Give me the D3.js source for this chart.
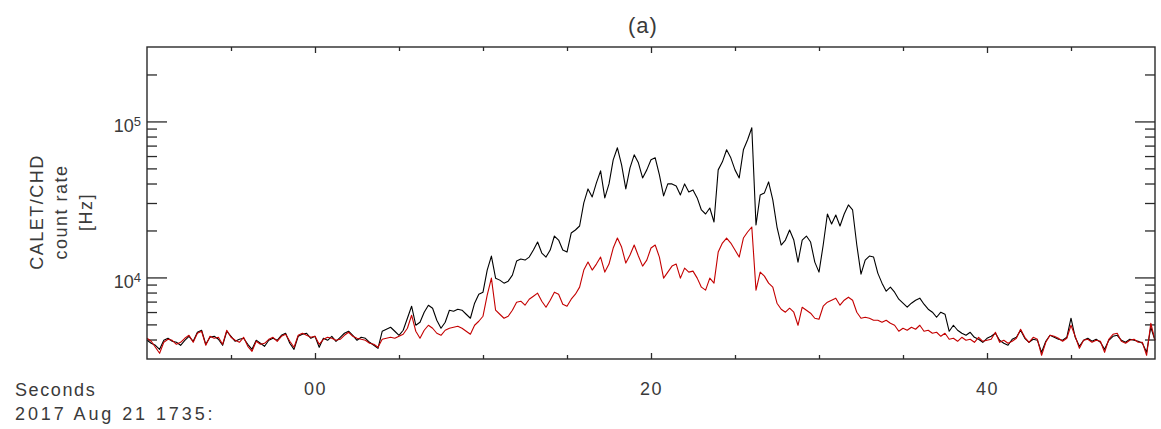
<!DOCTYPE html>
<html>
<head>
<meta charset="utf-8">
<script src="https://cdn.jsdelivr.net/npm/d3@7"></script>
<style>
  body { margin: 0; background: #fff; }
  svg text { font-family: "Liberation Sans", Arial, sans-serif; fill: #3a3a3a; }
</style>
</head>
<body>
<svg id="chart" width="1161" height="429"></svg>
<script>
// CALET/CHD count rate around 2017 Aug 21 17:35 (seconds from 17:35:00)
const timeStart = -10;
const timeStep = 0.25;

// upper curve (black), Hz
const blackRate = [
  3954,3782,3672,3461,3954,4073,3896,3838,3672,3954,
  4195,3896,4451,4585,3727,4134,4195,4013,3672,4518,
  4195,3896,4013,4073,3727,3461,3954,3782,3618,3954,
  4073,3954,4258,4386,3782,3461,4195,4321,4386,4073,
  4195,3565,4073,3954,4195,3896,4134,4386,4518,4258,
  3954,4134,4073,3838,3672,3512,4518,4653,4793,4518,
  4258,4585,5475,6539,4937,5160,5984,6637,6349,5316,
  4722,5160,6163,6073,6255,6163,5808,5475,6836,7811,
  8045,11140,13707,9897,9610,9192,9468,10347,12728,13110,
  12918,13504,14979,16860,14328,13504,14979,18426,17368,14979,
  14543,19260,20137,21364,30020,36930,32810,40370,48200,32326,
  39774,56740,67760,52680,36930,50400,61090,54270,43460,48920,
  56740,58440,45430,33300,39774,39774,38612,33800,39774,35330,
  36392,32326,27066,25512,27876,22666,48920,55080,65790,58440,
  48920,43460,65790,76270,91080,21680,33800,34810,40966,31388,
  21050,16130,17368,20137,17368,12540,17368,18426,16860,12540,
  10817,16130,25512,22003,25140,21364,25512,29150,27066,16130,
  10500,12918,13707,13504,10657,9192,8165,8664,8045,7253,
  6836,6443,6836,7146,7362,6736,6255,5984,5557,5984,
  5808,4518,4937,4585,4386,4258,4451,4134,4013,3838,
  4073,4195,4386,3954,3782,3672,4013,4134,4585,4073,
  3838,4013,3954,3311,3896,4258,4134,4013,3954,4134,
  5475,4134,3618,3954,4073,3896,4013,3838,3461,3954,
  4195,4258,3954,3838,4013,3954,3896,3782,3311,4793,3954
];

// lower curve (red), Hz
const redRate = [
  4073,3896,3565,3263,3838,4013,3954,3727,3838,4073,
  4258,3838,4386,4518,3672,4195,4073,4134,3727,4585,
  4134,3954,3838,4134,3618,3360,3896,3727,3782,4013,
  4134,3896,4195,4321,3896,3565,4258,4386,4258,4134,
  4195,3727,4013,4134,4073,3954,4013,4258,4451,4195,
  4073,4013,3954,3782,3727,3565,4013,4073,4134,4073,
  4195,4321,4722,5724,4518,4073,4585,4937,4722,4386,
  4258,4585,4722,4793,4864,4722,4518,4321,4937,5238,
  5640,7696,9897,6163,5808,5475,5640,6163,6938,7041,
  6637,7253,7582,7927,7041,6443,7146,8045,7811,6736,
  6539,7253,7811,8664,11140,12540,11140,12176,13504,10817,
  12176,15430,17887,15660,12357,13910,16130,13707,11820,12918,
  15430,16130,13504,9897,10817,11820,12176,9897,11476,10817,
  10977,9897,8664,8287,9897,9192,14543,16610,17887,16610,
  14979,13504,17887,19548,21050,8287,10817,10195,9192,8664,
  6836,6255,5984,6349,5984,4937,6443,6163,5896,5475,
  5395,6539,6938,7146,7362,6637,7146,7471,7146,5984,
  5475,5557,5475,5316,5316,5160,5316,5085,4937,4518,
  4722,4585,4793,4653,4937,4518,4585,4386,4451,4195,
  4386,4013,4073,3896,4134,3954,4013,3838,4134,3896,
  3954,4013,4451,3838,3954,3782,3896,4073,4653,4134,
  3838,4134,4013,3168,3838,4258,4195,4073,3896,4073,
  4937,4195,3512,3954,4013,3838,3954,3896,3311,4013,
  4321,4386,3896,3782,3954,4013,3838,3838,3168,5085,3954
];

const majorSeconds = [0, 20, 40];
const majorLabels = ["00", "20", "40"];
const minorSeconds = [-5, 5, 10, 15, 25, 30, 35, 45];
const majorRates = [1e4, 1e5];
const majorRateExp = ["4", "5"];
const minorRates = [4000,5000,6000,7000,8000,9000,
                    20000,30000,40000,50000,60000,70000,80000,90000,200000];

const titleText = "(a)";
const yLabelLines = ["CALET/CHD", "count rate", "[Hz]"];
const xLabelLines = ["Seconds", "2017 Aug 21 1735:"];

let plotLeft = 147, plotRight = 1155, plotTop = 47, plotBottom = 359;

let svg = d3.select("#chart");
svg.append("rect").attr("width", 1161).attr("height", 429).attr("fill", "#fff");

let x = d3.scaleLinear().domain([-10, 50]).range([plotLeft, plotRight]);
let y = d3.scaleLog().domain([3000, 300000]).range([plotBottom, plotTop]);

let axisColor = "#2a2a2a";

function cleanAxis(g) {
  g.select(".domain").remove();
  g.attr("color", axisColor);
  g.selectAll(".tick line").attr("stroke-width", 1.3);
}

// x ticks, bottom and top (inward)
svg.append("g").attr("transform", `translate(0,${plotBottom})`)
  .call(d3.axisBottom(x).tickValues(minorSeconds).tickSize(-4).tickSizeOuter(0).tickFormat(""))
  .call(cleanAxis);
svg.append("g").attr("transform", `translate(0,${plotTop})`)
  .call(d3.axisTop(x).tickValues(minorSeconds).tickSize(-4).tickSizeOuter(0).tickFormat(""))
  .call(cleanAxis);
svg.append("g").attr("transform", `translate(0,${plotTop})`)
  .call(d3.axisTop(x).tickValues(majorSeconds).tickSize(-6).tickSizeOuter(0).tickFormat(""))
  .call(cleanAxis);

let xMajor = svg.append("g").attr("transform", `translate(0,${plotBottom})`)
  .call(d3.axisBottom(x).tickValues(majorSeconds).tickSize(-6).tickSizeOuter(0)
        .tickPadding(23).tickFormat((d, i) => majorLabels[i]))
  .call(cleanAxis);
xMajor.attr("font-size", null).attr("font-family", null);
xMajor.selectAll(".tick text")
  .style("font-size", "18px")
  .style("letter-spacing", "1.5px")
  .attr("fill", "#3a3a3a");

// y ticks, left and right (inward)
svg.append("g").attr("transform", `translate(${plotLeft},0)`)
  .call(d3.axisLeft(y).tickValues(minorRates).tickSize(-10).tickSizeOuter(0).tickFormat(""))
  .call(cleanAxis);
svg.append("g").attr("transform", `translate(${plotRight},0)`)
  .call(d3.axisRight(y).tickValues(minorRates).tickSize(-10).tickSizeOuter(0).tickFormat(""))
  .call(cleanAxis);
svg.append("g").attr("transform", `translate(${plotRight},0)`)
  .call(d3.axisRight(y).tickValues(majorRates).tickSize(-20).tickSizeOuter(0).tickFormat(""))
  .call(cleanAxis);
let yMajor = svg.append("g").attr("transform", `translate(${plotLeft},0)`)
  .call(d3.axisLeft(y).tickValues(majorRates).tickSize(-20).tickSizeOuter(0).tickFormat(""))
  .call(cleanAxis);

// 10^n labels with superscript
yMajor.selectAll(".tick").each(function(d, i) {
  let t = d3.select(this).append("text")
    .attr("x", -6)
    .attr("y", 10.5)
    .attr("text-anchor", "end")
    .style("font-size", "18px")
    .attr("fill", "#3a3a3a");
  t.append("tspan").text("10");
  t.append("tspan").attr("dy", -6.5).style("font-size", "13px").text(majorRateExp[i]);
});

// curves
let line = d3.line()
  .x((d, i) => x(timeStart + i * timeStep))
  .y(d => y(d));

svg.append("path").datum(blackRate)
  .attr("d", line)
  .attr("fill", "none")
  .attr("stroke", "#000")
  .attr("stroke-width", 1.1)
  .attr("stroke-linejoin", "round");

svg.append("path").datum(redRate)
  .attr("d", line)
  .attr("fill", "none")
  .attr("stroke", "#c40000")
  .attr("stroke-width", 1.1)
  .attr("stroke-linejoin", "round");

// frame
svg.append("rect")
  .attr("x", plotLeft).attr("y", plotTop)
  .attr("width", plotRight - plotLeft).attr("height", plotBottom - plotTop)
  .attr("fill", "none")
  .attr("stroke", axisColor)
  .attr("stroke-width", 1.4);

// title
svg.append("text")
  .attr("x", (plotLeft + plotRight) / 2 - 8)
  .attr("y", 33)
  .attr("text-anchor", "middle")
  .style("font-size", "22px")
  .style("letter-spacing", "1px")
  .text(titleText);

// y label, three rotated lines
let yLabelX = [43, 67, 92];
yLabelLines.forEach((s, i) => {
  svg.append("text")
    .attr("transform", `translate(${yLabelX[i]},212) rotate(-90)`)
    .attr("text-anchor", "middle")
    .style("font-size", "18px")
    .style("letter-spacing", "1.5px")
    .text(s);
});

// x label, two lines at the lower left
let xLabelY = [396, 420];
let xLabelSpacing = ["1.6px", "2.9px"];
xLabelLines.forEach((s, i) => {
  svg.append("text")
    .attr("x", 15)
    .attr("y", xLabelY[i])
    .style("font-size", "18px")
    .style("letter-spacing", xLabelSpacing[i])
    .text(s);
});
</script>
</body>
</html>
